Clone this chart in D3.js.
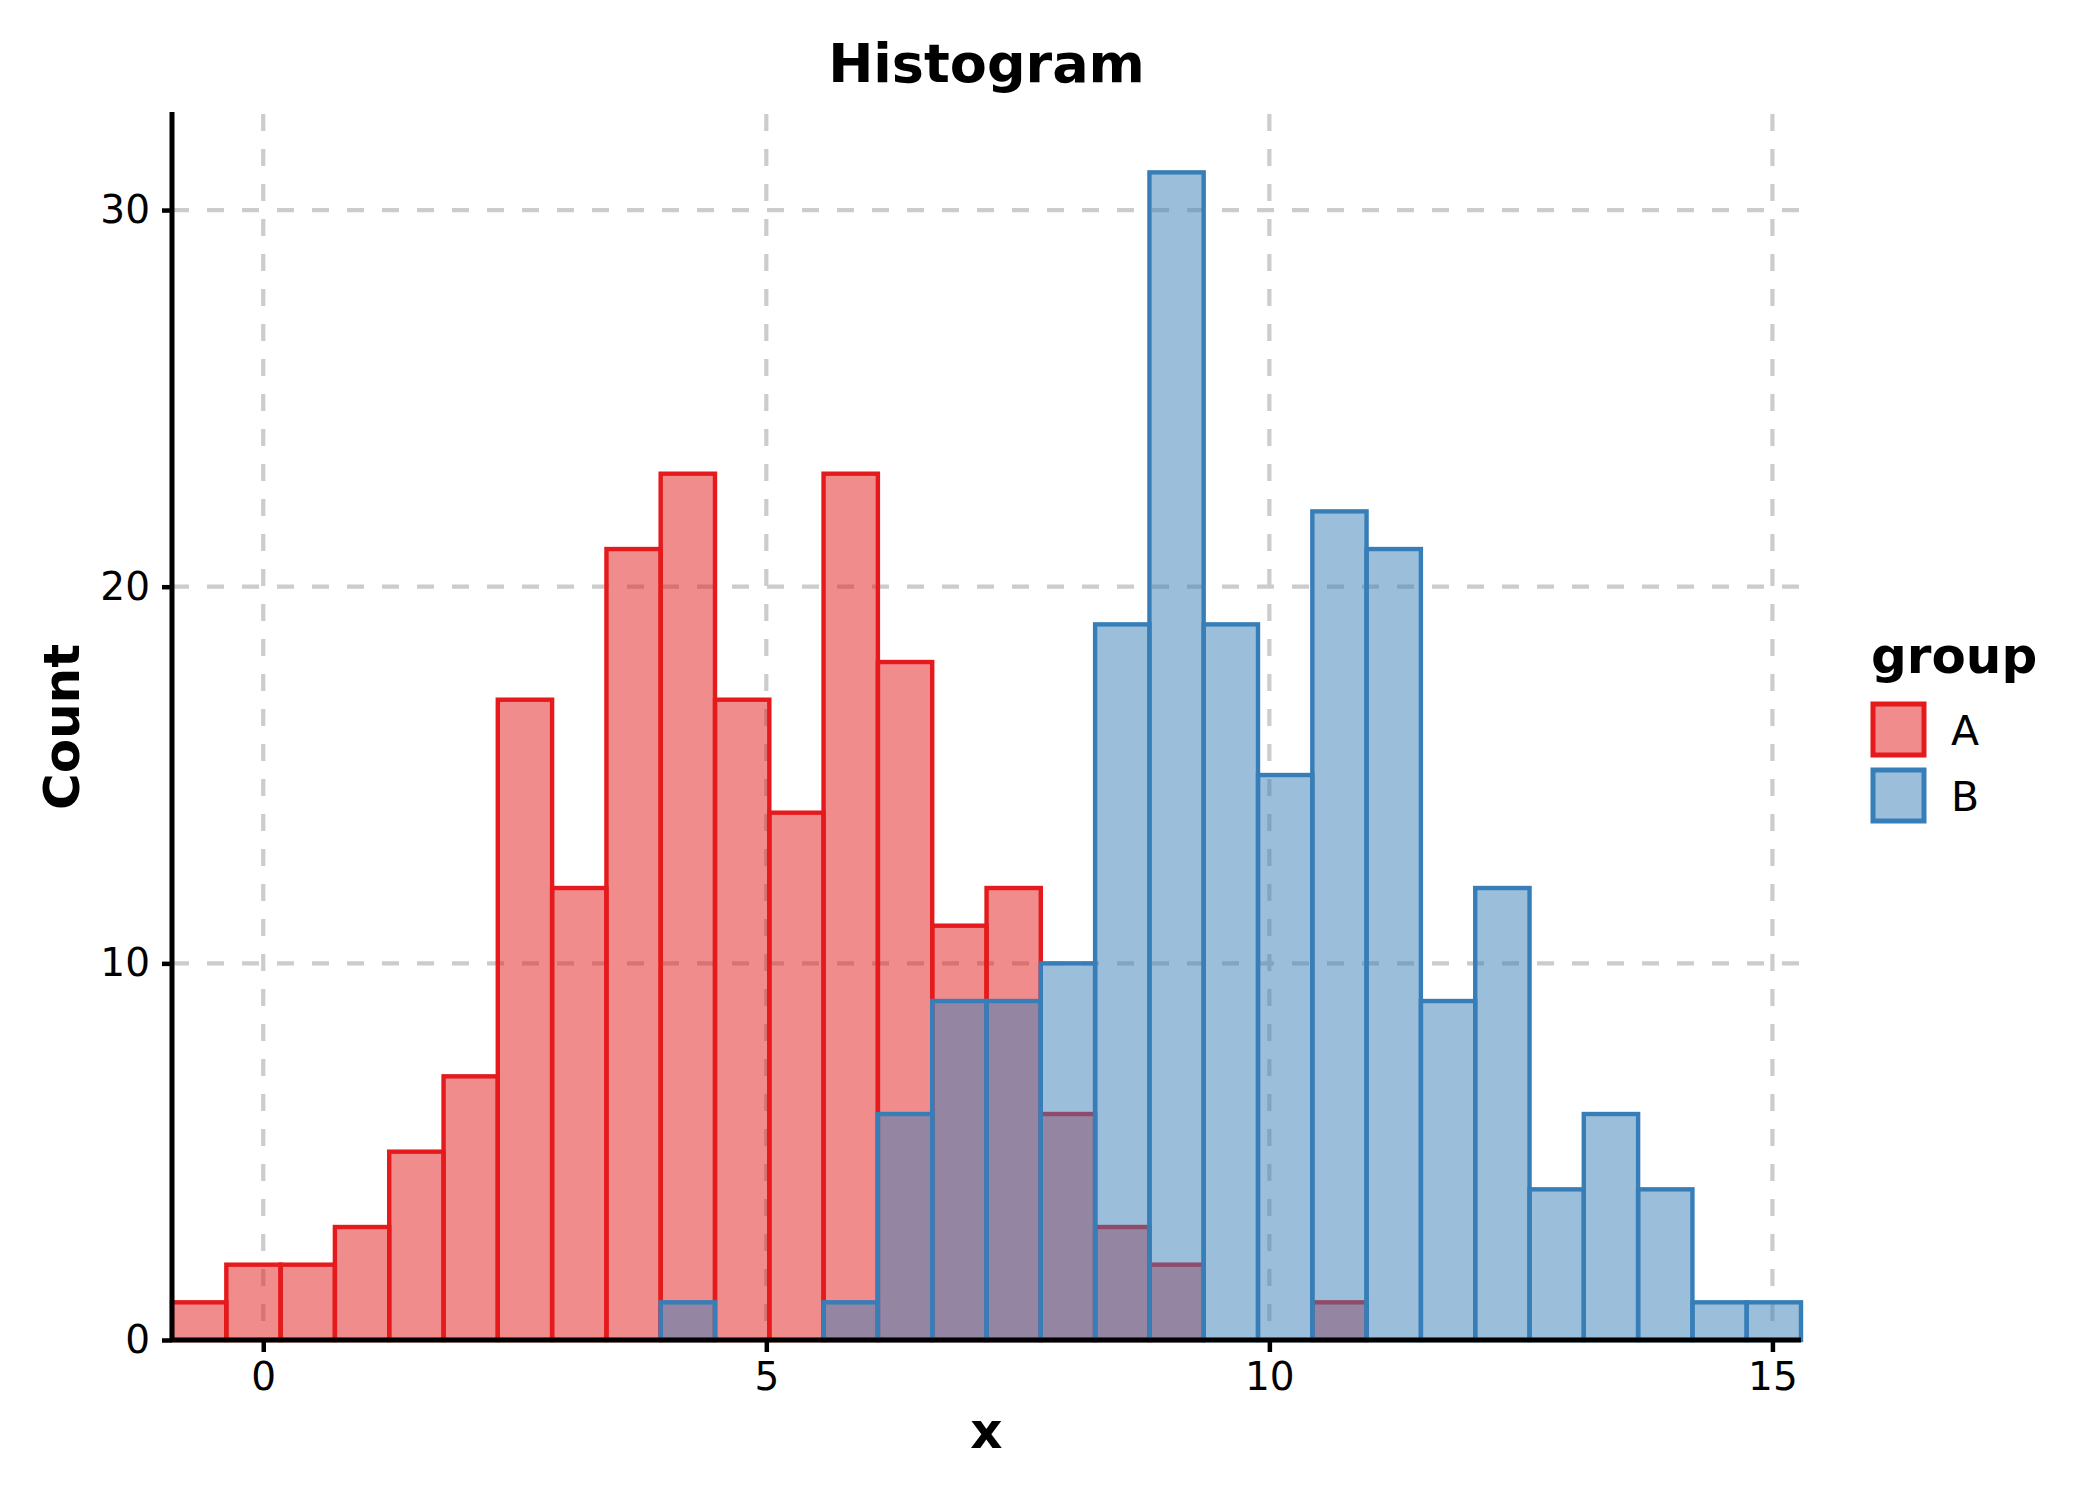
<!DOCTYPE html>
<html>
<head>
<meta charset="utf-8">
<script src="https://cdn.jsdelivr.net/npm/d3@7"></script>
<style>
  html, body { margin: 0; padding: 0; background: #ffffff; }
  svg { display: block; font-family: "DejaVu Sans", sans-serif; }
</style>
</head>
<body>
<svg id="chart" width="2100" height="1500"></svg>
<script>
// ---- data ----
const binEdges = [-0.907, -0.367, 0.172, 0.712, 1.252, 1.792, 2.331, 2.871, 3.411, 3.950,
                  4.490, 5.030, 5.569, 6.109, 6.649, 7.189, 7.728, 8.268, 8.808, 9.347,
                  9.887, 10.427, 10.966, 11.506, 12.046, 12.586, 13.125, 13.665, 14.205, 14.744, 15.284];
const countsA = [1, 2, 2, 3, 5, 7, 17, 12, 21, 23, 17, 14, 23, 18, 11, 12, 6, 3, 2, 0, 0, 1, 0, 0, 0, 0, 0, 0, 0, 0];
const countsB = [0, 0, 0, 0, 0, 0, 0, 0, 0, 1, 0, 0, 1, 6, 9, 9, 10, 19, 31, 19, 15, 22, 21, 9, 12, 4, 6, 4, 1, 1];
const groups = ["A", "B"];
const groupColors = ["#e41a1c", "#377eb8"];
const xTicks = [0, 5, 10, 15];
const yTicks = [0, 10, 20, 30];
const titleText = "Histogram";
const xLabel = "x";
const yLabel = "Count";
const legendTitle = "group";

(function () {
// ---- layout ----
const svg = d3.select("#chart");
const pL = 172, pR = 1801, pT = 114, pB = 1340;

const yMax = d3.max(countsA.concat(countsB)) * 1.05;
const x = d3.scaleLinear().domain([binEdges[0], binEdges[binEdges.length - 1]]).range([pL, pR]);
const y = d3.scaleLinear().domain([0, yMax]).range([pB, pT]);

// grid
const grid = svg.append("g");
grid.selectAll("line.vg").data(xTicks).join("line")
  .attr("x1", d => x(d)).attr("x2", d => x(d)).attr("y1", pT).attr("y2", pB)
  .attr("stroke", "#cccccc").attr("stroke-width", 4.2).attr("stroke-dasharray", "17,18");
grid.selectAll("line.hg").data(yTicks).join("line")
  .attr("x1", pL).attr("x2", pR).attr("y1", d => y(d)).attr("y2", d => y(d))
  .attr("stroke", "#cccccc").attr("stroke-width", 4.2).attr("stroke-dasharray", "17,18");

// bars
const series = [countsA, countsB];
series.forEach((counts, gi) => {
  const bins = counts.map((c, i) => ({ x0: binEdges[i], x1: binEdges[i + 1], c }))
                     .filter(d => d.c > 0);
  svg.append("g").selectAll("rect").data(bins).join("rect")
    .attr("x", d => x(d.x0))
    .attr("width", d => x(d.x1) - x(d.x0))
    .attr("y", d => y(d.c))
    .attr("height", d => y(0) - y(d.c))
    .attr("fill", groupColors[gi]).attr("fill-opacity", 0.5)
    .attr("stroke", groupColors[gi]).attr("stroke-width", 4.4);
});

// axes
const xAxis = d3.axisBottom(x).tickValues(xTicks).tickSize(12).tickPadding(10).tickFormat(d3.format("d"));
const yAxis = d3.axisLeft(y).tickValues(yTicks).tickSize(10).tickPadding(12).tickFormat(d3.format("d"));

const gx = svg.append("g").attr("transform", `translate(0,${pB})`).call(xAxis);
const gy = svg.append("g").attr("transform", `translate(${pL},0)`).call(yAxis);
[gx, gy].forEach(g => {
  g.select(".domain").attr("stroke", "#000").attr("stroke-width", 5);
  g.selectAll(".tick line").attr("stroke", "#000").attr("stroke-width", 4.5);
  g.selectAll(".tick text").attr("font-size", 39).attr("fill", "#000")
    .attr("font-family", "DejaVu Sans");
});
gx.select(".domain").attr("d", `M${pL},0H${pR}`);
gy.select(".domain").attr("d", `M0,${pT - 2}V${pB}`);

// title & labels
svg.append("text").attr("x", (pL + pR) / 2).attr("y", 82)
  .attr("text-anchor", "middle").attr("font-size", 54).attr("font-weight", "bold").text(titleText);
svg.append("text").attr("x", (pL + pR) / 2).attr("y", 1448)
  .attr("text-anchor", "middle").attr("font-size", 50).attr("font-weight", "bold").text(xLabel);
svg.append("text").attr("transform", `translate(79,${(pT + pB) / 2}) rotate(-90)`)
  .attr("text-anchor", "middle").attr("font-size", 50).attr("font-weight", "bold").text(yLabel);

// legend
const lg = svg.append("g");
lg.append("text").attr("x", 1871).attr("y", 673).attr("font-size", 50).attr("font-weight", "bold").text(legendTitle);
groups.forEach((g, i) => {
  lg.append("rect").attr("x", 1873).attr("y", 704 + i * 66).attr("width", 51).attr("height", 51)
    .attr("fill", groupColors[i]).attr("fill-opacity", 0.5)
    .attr("stroke", groupColors[i]).attr("stroke-width", 5);
  lg.append("text").attr("x", 1951).attr("y", 745 + i * 66).attr("font-size", 41).text(g);
});
})();
</script>
</body>
</html>
